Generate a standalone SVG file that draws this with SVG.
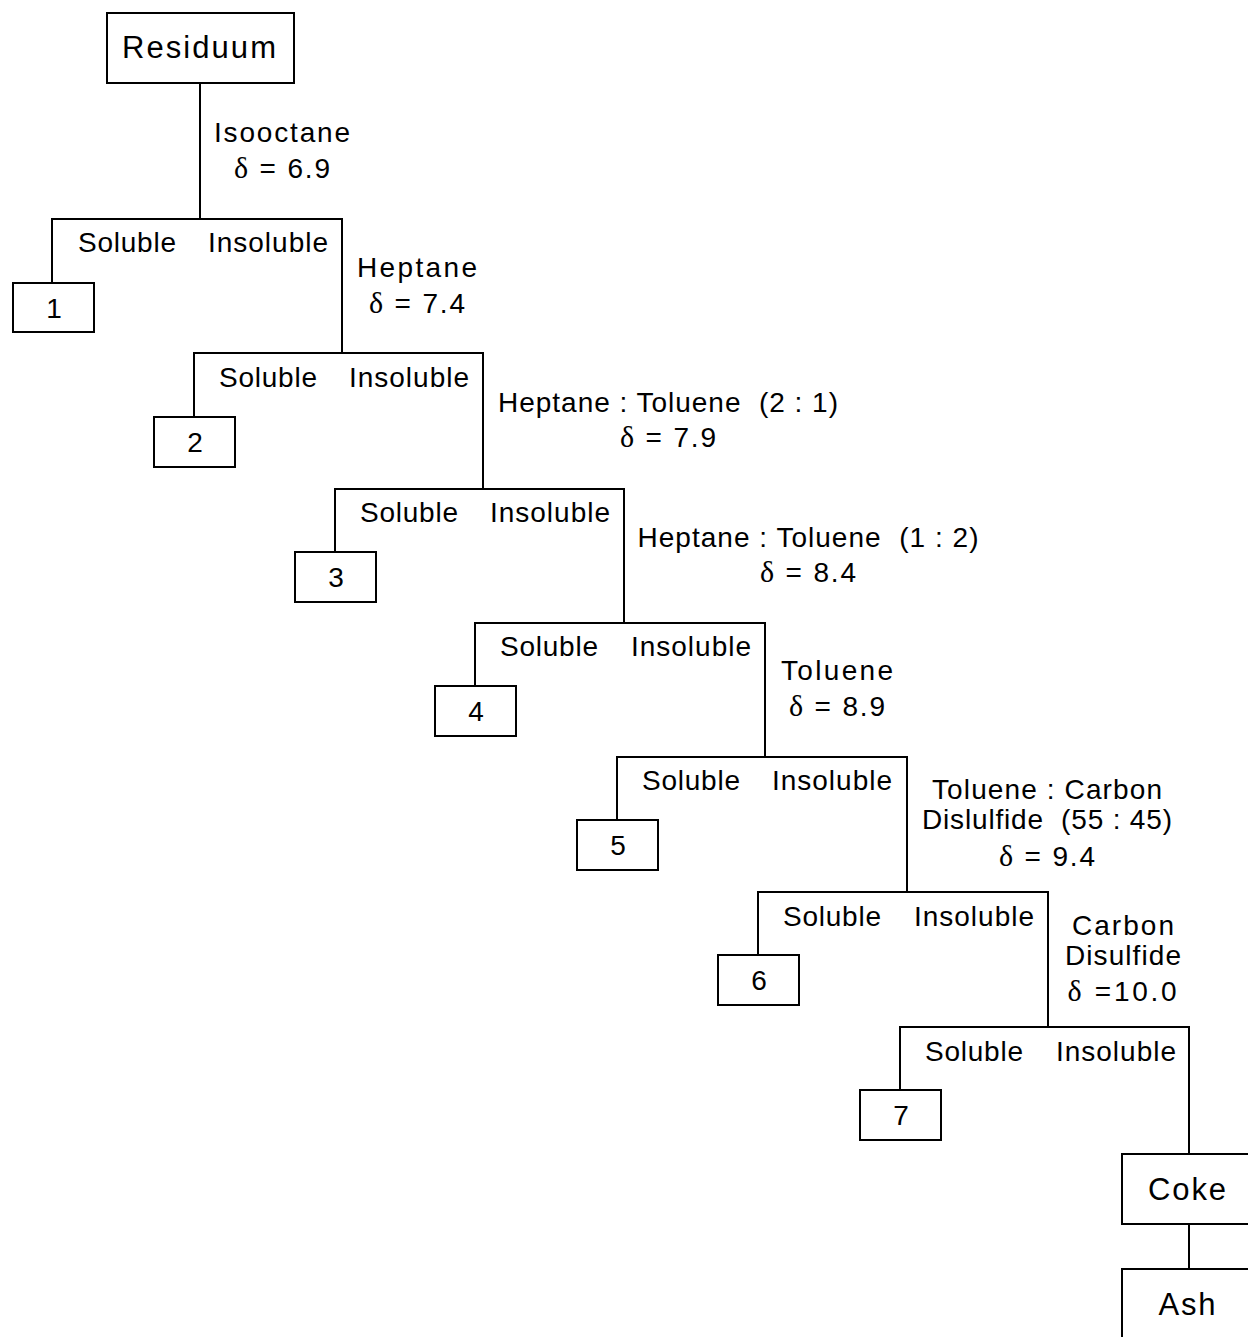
<svg xmlns="http://www.w3.org/2000/svg" width="1248" height="1337" viewBox="0 0 1248 1337">
<style>
.bx{fill:#fff;stroke:#000;stroke-width:2}
.ln{fill:none;stroke:#000;stroke-width:2}
text{font-family:"Liberation Sans",Arial,sans-serif;font-size:28px;fill:#000;text-anchor:middle;white-space:pre}
.big{font-size:31px}
.d{font-family:"Liberation Serif","Times New Roman",serif;font-size:30px}
</style>
<rect width="1248" height="1337" fill="#fff"/>
<g id="connectors">
<path class="ln" d="M200 83V219M52 283V219H342V353"/>
<path class="ln" d="M194 417V353H483V489"/>
<path class="ln" d="M335 552V489H624V623"/>
<path class="ln" d="M475 686V623H765V757"/>
<path class="ln" d="M617 820V757H907V892"/>
<path class="ln" d="M758 955V892H1048V1027"/>
<path class="ln" d="M900 1090V1027H1189V1154"/>
<path class="ln" d="M1189 1224V1269"/>
</g>
<g id="labels">
<text x="127" y="252" textLength="98">Soluble</text><text x="268" y="252" textLength="120">Insoluble</text>
<text x="268" y="387" textLength="98">Soluble</text><text x="409" y="387" textLength="120">Insoluble</text>
<text x="409" y="522" textLength="98">Soluble</text><text x="550" y="522" textLength="120">Insoluble</text>
<text x="549" y="656" textLength="98">Soluble</text><text x="691" y="656" textLength="120">Insoluble</text>
<text x="691" y="790" textLength="98">Soluble</text><text x="832" y="790" textLength="120">Insoluble</text>
<text x="832" y="926" textLength="98">Soluble</text><text x="974" y="926" textLength="120">Insoluble</text>
<text x="974" y="1061" textLength="98">Soluble</text><text x="1116" y="1061" textLength="120">Insoluble</text>
<text x="282" y="142" textLength="136">Isooctane</text>
<text x="282" y="178" textLength="96"><tspan class="d">δ</tspan> = 6.9</text>
<text x="417" y="277" textLength="120">Heptane</text>
<text x="417" y="313" textLength="96"><tspan class="d">δ</tspan> = 7.4</text>
<text x="668" y="412" textLength="340" xml:space="preserve">Heptane : Toluene  (2 : 1)</text>
<text x="668" y="447" textLength="96"><tspan class="d">δ</tspan> = 7.9</text>
<text x="808" y="547" textLength="341" xml:space="preserve">Heptane : Toluene  (1 : 2)</text>
<text x="808" y="582" textLength="96"><tspan class="d">δ</tspan> = 8.4</text>
<text x="837" y="680" textLength="112">Toluene</text>
<text x="837" y="716" textLength="96"><tspan class="d">δ</tspan> = 8.9</text>
<text x="1047" y="799" textLength="230">Toluene : Carbon</text>
<text x="1047" y="829" textLength="250" xml:space="preserve">Dislulfide  (55 : 45)</text>
<text x="1047" y="866" textLength="96"><tspan class="d">δ</tspan> = 9.4</text>
<text x="1123" y="935" textLength="102">Carbon</text>
<text x="1123" y="965" textLength="116">Disulfide</text>
<text x="1122" y="1001" textLength="109"><tspan class="d">δ</tspan> =10.0</text>
</g>
<g id="n-residuum"><rect class="bx" x="107" y="13" width="187" height="70"/><text class="big" x="199" y="58" textLength="154">Residuum</text></g>
<g id="n-1"><rect class="bx" x="13" y="283" width="81" height="49"/><text x="54" y="318">1</text></g>
<g id="n-2"><rect class="bx" x="154" y="417" width="81" height="50"/><text x="195" y="452">2</text></g>
<g id="n-3"><rect class="bx" x="295" y="552" width="81" height="50"/><text x="336" y="587">3</text></g>
<g id="n-4"><rect class="bx" x="435" y="686" width="81" height="50"/><text x="476" y="721">4</text></g>
<g id="n-5"><rect class="bx" x="577" y="820" width="81" height="50"/><text x="618" y="855">5</text></g>
<g id="n-6"><rect class="bx" x="718" y="955" width="81" height="50"/><text x="759" y="990">6</text></g>
<g id="n-7"><rect class="bx" x="860" y="1090" width="81" height="50"/><text x="901" y="1125">7</text></g>
<g id="n-coke"><rect class="bx" x="1122" y="1154" width="130" height="70"/><text class="big" x="1187" y="1200" textLength="78">Coke</text></g>
<g id="n-ash"><rect class="bx" x="1122" y="1269" width="130" height="75"/><text class="big" x="1187" y="1315" textLength="57">Ash</text></g>
</svg>
